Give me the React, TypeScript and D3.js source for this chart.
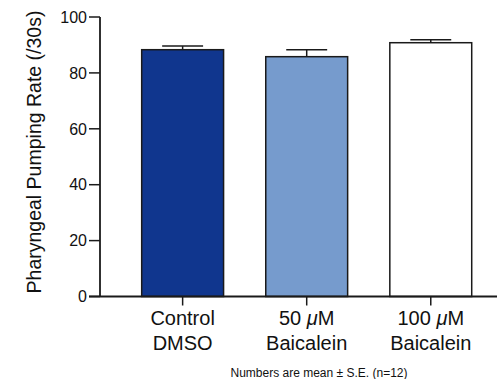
import React from "react";
import * as d3 from "d3";

const categories = ["Control|DMSO", "50 μM|Baicalein", "100 μM|Baicalein"];
const means = [88.3, 85.8, 90.8];
const errors = [1.3, 2.5, 1.1];
const colors = ["#10368e", "#769bcd", "#ffffff"];
const yTicks = [0, 20, 40, 60, 80, 100];
const yTitle = "Pharyngeal Pumping Rate (/30s)";
const footnote = "Numbers are mean ± S.E. (n=12)";

const W = 497;
const H = 379;
const FONT = "'Liberation Sans', Arial, Helvetica, sans-serif";

export default function App() {
  const x0 = 100;
  const y = d3.scaleLinear().domain([0, 100]).range([296.5, 17]);
  const x = d3
    .scaleBand<string>()
    .domain(categories)
    .range([x0, 513.4])
    .paddingInner(0.34)
    .paddingOuter(0.336);
  const bw = x.bandwidth();
  const stroke = "#1a1a1a";

  const renderLabel = (c: string) => {
    const parts = c.split("|");
    const cx = (x(c) as number) + bw / 2;
    return parts.map((p, i) => {
      const m = p.match(/^(.*)μ(.*)$/);
      return (
        <text key={i} x={cx} y={325 + i * 25} textAnchor="middle" fontSize={20} fontFamily={FONT} fill="#111">
          {m ? (
            <>
              {m[1]}
              <tspan fontStyle="italic">μ</tspan>
              {m[2]}
            </>
          ) : (
            p
          )}
        </text>
      );
    });
  };

  return (
    <div style={{ position: "absolute", left: 0, top: 0 }}>
      <svg width={W} height={H} style={{ display: "block", background: "#fff" }}>
        {/* bars */}
        {categories.map((c, i) => (
          <rect
            key={c}
            x={x(c)}
            y={y(means[i])}
            width={bw}
            height={y(0) - y(means[i])}
            fill={colors[i]}
            stroke={stroke}
            strokeWidth={1.5}
          />
        ))}
        {/* error bars (upper only) */}
        {categories.map((c, i) => {
          const cx = (x(c) as number) + bw / 2;
          const top = y(means[i] + errors[i]);
          return (
            <g key={c} stroke={stroke} strokeWidth={1.5}>
              <line x1={cx} x2={cx} y1={y(means[i])} y2={top} />
              <line x1={cx - bw / 4} x2={cx + bw / 4} y1={top} y2={top} />
            </g>
          );
        })}
        {/* y axis */}
        <line x1={x0} x2={x0} y1={y(100)} y2={y(0)} stroke={stroke} strokeWidth={1.8} />
        {yTicks.map((t) => (
          <g key={t}>
            <line x1={x0 - 11} x2={x0} y1={y(t)} y2={y(t)} stroke={stroke} strokeWidth={1.5} />
            <text
              x={x0 - 13}
              y={y(t)}
              dy="0.36em"
              textAnchor="end"
              fontSize={16}
              fontFamily={FONT}
              fill="#111"
            >
              {t}
            </text>
          </g>
        ))}
        {/* x axis */}
        <line x1={x0 - 11} x2={W + 5} y1={y(0)} y2={y(0)} stroke={stroke} strokeWidth={1.8} />
        {categories.map((c) => {
          const cx = (x(c) as number) + bw / 2;
          return <line key={c} x1={cx} x2={cx} y1={y(0)} y2={y(0) + 9} stroke={stroke} strokeWidth={1.5} />;
        })}
        {categories.map((c) => (
          <g key={c}>{renderLabel(c)}</g>
        ))}
        {/* y title */}
        <text
          transform={`translate(41,152) rotate(-90)`}
          textAnchor="middle"
          fontSize={19.5}
          fontFamily={FONT}
          fill="#111"
        >
          {yTitle}
        </text>
        {/* footnote */}
        <text x={319} y={377} textAnchor="middle" fontSize={12} fontFamily={FONT} fill="#111">
          {footnote}
        </text>
      </svg>
    </div>
  );
}
